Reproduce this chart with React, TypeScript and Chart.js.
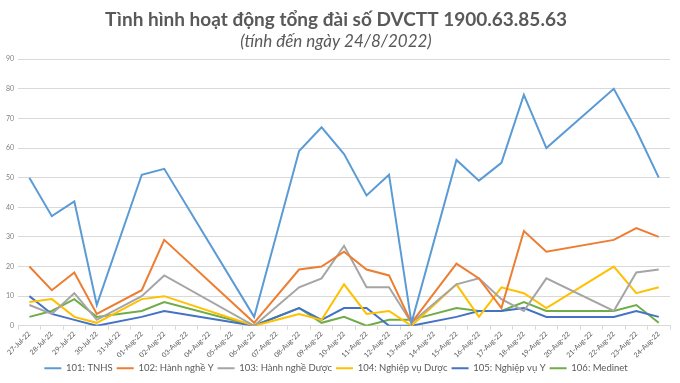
import React, { useEffect, useRef } from "react";
import { Chart, registerables } from "chart.js";

Chart.register(...registerables);

// Daily call counts by queue; null marks days with no report
const dates = [
  "27-Jul-22", "28-Jul-22", "29-Jul-22", "30-Jul-22", "31-Jul-22",
  "01-Aug-22", "02-Aug-22", "03-Aug-22", "04-Aug-22", "05-Aug-22",
  "06-Aug-22", "07-Aug-22", "08-Aug-22", "09-Aug-22", "10-Aug-22",
  "11-Aug-22", "12-Aug-22", "13-Aug-22", "14-Aug-22", "15-Aug-22",
  "16-Aug-22", "17-Aug-22", "18-Aug-22", "19-Aug-22", "20-Aug-22",
  "21-Aug-22", "22-Aug-22", "23-Aug-22", "24-Aug-22",
];

const tnhs = [50, 37, 42, 7, null, 51, 53, null, null, null, 3, null, 59, 67, 58, 44, 51, 1, null, 56, 49, 55, 78, 60, null, null, 80, 66, 50];
const hanhNgheY = [20, 12, 18, 4, null, 12, 29, null, null, null, 1, null, 19, 20, 25, 19, 17, 1, null, 21, 16, 6, 32, 25, null, null, 29, 33, 30];
const hanhNgheDuoc = [7, 4, 11, 2, null, 10, 17, null, null, null, 0, null, 13, 16, 27, 13, 13, 1, null, 14, 16, 9, 5, 16, null, null, 5, 18, 19];
const nghiepVuDuoc = [8, 9, 3, 1, null, 9, 10, null, null, null, 0, null, 4, 2, 14, 4, 5, 0, null, 14, 3, 13, 11, 6, null, null, 20, 11, 13];
const nghiepVuY = [10, 4, 2, 0, null, 3, 5, null, null, null, 0, null, 6, 2, 6, 6, 0, 0, null, 3, 5, 5, 6, 3, null, null, 3, 5, 3];
const medinet = [3, 5, 9, 3, null, 5, 8, null, null, null, 0, null, 6, 1, 3, 0, 2, 2, null, 6, 5, 5, 8, 5, null, null, 5, 7, 1];

const seriesNames = [
  "101: TNHS",
  "102: Hành nghề Y",
  "103: Hành nghề Dược",
  "104: Nghiệp vụ Dược",
  "105: Nghiệp vụ Y",
  "106: Medinet",
];
const seriesColors = ["#5B9BD5", "#ED7D31", "#A5A5A5", "#FFC000", "#4472C4", "#70AD47"];
const seriesValues = [tnhs, hanhNgheY, hanhNgheDuoc, nghiepVuDuoc, nghiepVuY, medinet];

const FONT = "Lato, 'Open Sans', sans-serif";

export default function App() {
  const canvasRef = useRef<HTMLCanvasElement>(null);

  useEffect(() => {
    if (!canvasRef.current) return;
    const chart = new Chart(canvasRef.current, {
      type: "line",
      data: {
        labels: dates,
        datasets: seriesNames.map((name, i) => ({
          label: name,
          data: seriesValues[i],
          borderColor: seriesColors[i],
          backgroundColor: seriesColors[i],
          borderWidth: 2,
          pointRadius: 0,
          tension: 0,
          spanGaps: true,
        })),
      },
      options: {
        animation: false,
        responsive: false,
        maintainAspectRatio: false,
        layout: { padding: { left: 2, right: 10, top: 8, bottom: 0 } },
        plugins: {
          title: {
            display: true,
            text: "Tình hình hoạt động tổng đài số DVCTT 1900.63.85.63",
            color: "#595959",
            font: { family: FONT, size: 19, weight: "bold" },
            padding: { top: 0, bottom: 1 },
          },
          subtitle: {
            display: true,
            text: "(tính đến ngày 24/8/2022)",
            color: "#595959",
            font: { family: FONT, size: 17, style: "italic" },
            padding: { top: 0, bottom: 7 },
          },
          legend: {
            position: "bottom",
            labels: {
              usePointStyle: true,
              pointStyle: "line",
              pointStyleWidth: 17,
              boxHeight: 8,
              color: "#595959",
              font: { family: FONT, size: 9.5 },
              padding: 4,
            },
          },
          tooltip: { enabled: false },
        },
        scales: {
          x: {
            offset: true,
            grid: {
              display: true,
              offset: true,
              drawOnChartArea: false,
              drawTicks: true,
              tickLength: 4,
              color: "#D9D9D9",
            },
            border: { color: "#D9D9D9" },
            ticks: {
              autoSkip: false,
              minRotation: 45,
              maxRotation: 45,
              color: "#595959",
              font: { family: FONT, size: 7 },
              padding: 0,
            },
          },
          y: {
            min: 0,
            max: 90,
            ticks: {
              stepSize: 10,
              color: "#808080",
              font: { family: FONT, size: 7 },
              padding: 4,
            },
            grid: { color: "#D9D9D9", drawTicks: false },
            border: { display: false },
          },
        },
      },
    });
    return () => chart.destroy();
  }, []);

  return (
    <div style={{ position: "fixed", left: 0, top: 0, width: 680, height: 383, background: "#fff" }}>
      <canvas ref={canvasRef} width={680} height={383} />
    </div>
  );
}
